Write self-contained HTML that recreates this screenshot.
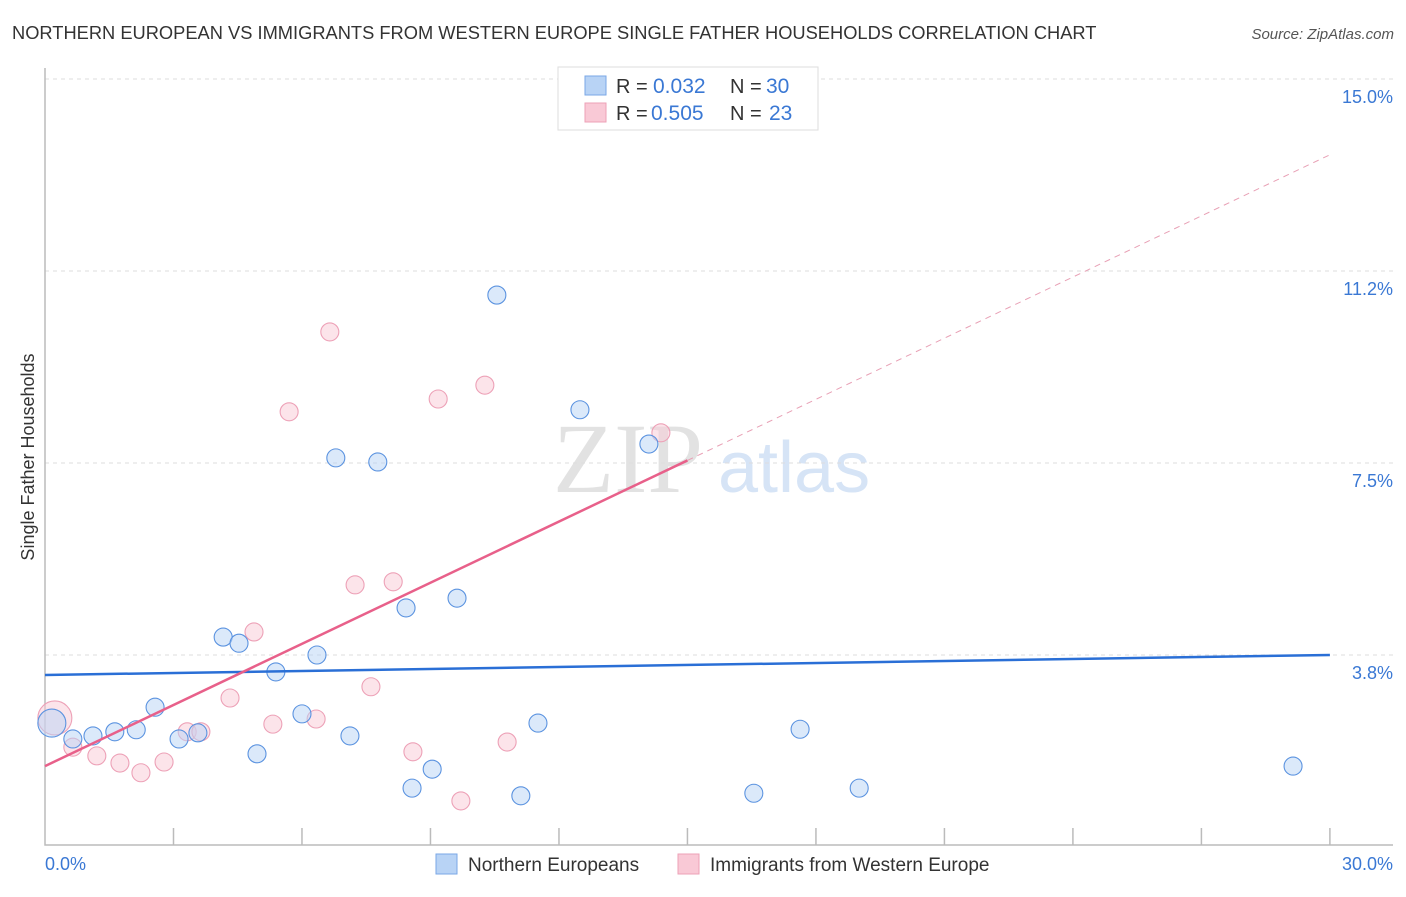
<!DOCTYPE html>
<html><head><meta charset="utf-8"><style>
body{margin:0;background:#fff;width:1406px;height:892px;overflow:hidden;font-family:"Liberation Sans",sans-serif}
</style></head><body>
<svg width="1406" height="892" xmlns="http://www.w3.org/2000/svg">
<text x="12" y="39" font-size="18.3" fill="#333">NORTHERN EUROPEAN VS IMMIGRANTS FROM WESTERN EUROPE SINGLE FATHER HOUSEHOLDS CORRELATION CHART</text>
<text x="1394" y="39" font-size="15" fill="#555" font-style="italic" text-anchor="end">Source: ZipAtlas.com</text>
<text x="34" y="457" font-size="18" fill="#333" text-anchor="middle" transform="rotate(-90 34 457)">Single Father Households</text>
<text x="553" y="492" font-size="100" fill="#e2e2e2" font-family="Liberation Serif,serif">ZIP</text>
<text x="718" y="492" font-size="72" fill="#d6e4f6">atlas</text>
<g id="grid"></g>
<g id="marks"></g>
<g>
<rect x="558" y="67" width="260" height="63" fill="#fff" stroke="#ddd"/>
<rect x="585" y="76" width="21" height="19" fill="#b8d3f5" stroke="#7aa7e6"/>
<rect x="585" y="103" width="21" height="19" fill="#f9c9d6" stroke="#eda1b7"/>
<text x="616" y="93" font-size="20" fill="#333">R =</text>
<text x="653" y="93" font-size="21" fill="#3a78d4">0.032</text>
<text x="730" y="93" font-size="20" fill="#333">N =</text>
<text x="766" y="93" font-size="21" fill="#3a78d4">30</text>
<text x="616" y="120" font-size="20" fill="#333">R =</text>
<text x="651" y="120" font-size="21" fill="#3a78d4">0.505</text>
<text x="730" y="120" font-size="20" fill="#333">N =</text>
<text x="769" y="120" font-size="21" fill="#3a78d4">23</text>
</g>
<g>
<rect x="436" y="854" width="21" height="20" fill="#b8d3f5" stroke="#7aa7e6"/>
<text x="468" y="871" font-size="19" fill="#333">Northern Europeans</text>
<rect x="678" y="854" width="21" height="20" fill="#f9c9d6" stroke="#eda1b7"/>
<text x="710" y="871" font-size="19" fill="#333">Immigrants from Western Europe</text>
</g>
</svg>
<script>
const yTicks=[15.0,11.25,7.5,3.75];
const yTickLabels=["15.0%","11.2%","7.5%","3.8%"];
const xTickLabels=["0.0%","30.0%"];
const blueX=[0.16,0.65,1.12,1.63,2.13,2.57,3.13,3.57,4.16,4.53,4.95,5.39,6.00,6.35,6.79,7.12,7.77,8.43,8.57,9.04,9.62,10.55,11.11,11.51,12.49,14.10,16.55,17.63,19.01,29.14];
const blueY=[2.42,2.11,2.17,2.25,2.29,2.73,2.11,2.23,4.10,3.98,1.82,3.42,2.60,3.75,7.60,2.17,7.52,4.67,1.15,1.52,4.86,10.78,1.00,2.42,8.54,7.87,1.05,2.30,1.15,1.58];
const pinkX=[0.23,0.65,1.21,1.75,2.24,2.78,3.32,3.64,4.32,4.88,5.32,5.70,6.33,6.65,7.24,7.61,8.13,8.59,9.18,9.71,10.27,10.79,14.38];
const pinkY=[2.52,1.95,1.78,1.64,1.45,1.66,2.25,2.25,2.91,4.20,2.40,8.50,2.50,10.06,5.12,3.13,5.18,1.86,8.75,0.90,9.02,2.05,8.09];
const blueTrend=[3.36,3.75];
const pinkTrend=[1.58,13.52];
const NS="http://www.w3.org/2000/svg";
const X=v=>45+v*42.83, Y=v=>847-v*51.2;
function mk(tag,attrs,parent){const e=document.createElementNS(NS,tag);for(const k in attrs)e.setAttribute(k,attrs[k]);parent.appendChild(e);return e;}
const grid=document.getElementById('grid'), marks=document.getElementById('marks');
yTicks.forEach((t,i)=>{
 const l=mk('line',{x1:45,x2:1393,y1:Y(t),y2:Y(t),stroke:'#ddd','stroke-dasharray':'4,4'},grid);
 
 
 const tx=mk('text',{x:1393,y:Y(t)+24,'font-size':18,fill:'#3a78d4','text-anchor':'end'},grid);
 tx.textContent=yTickLabels[i];
 
 
});
const ax=mk('path',{d:'M45 68V845H1393',fill:'none',stroke:'#bbb','stroke-width':1.5},grid);


for(let i=1;i<=10;i++){const t=mk('line',{x1:X(i*3),x2:X(i*3),y1:828,y2:845,stroke:'#bbb','stroke-width':1.5},grid);
 
 }
[[0,'start',45],[30,'end',1393]].forEach((a,i)=>{const t=mk('text',{x:a[2],y:870,'font-size':18,fill:'#3a78d4','text-anchor':a[1]},grid);t.textContent=xTickLabels[i];
 
 });
function dots(xs,ys,fill,stroke,name){xs.forEach((x,i)=>{const r=i===0?(name==='pink-point'?17:14):9;
 const c=mk('circle',{cx:X(x),cy:Y(ys[i]),r:r,fill:fill,'fill-opacity':0.5,stroke:stroke,'stroke-width':1.1},marks);
 
 });}
dots(pinkX,pinkY,'#f9c9d6','#eda1b7','pink-point');
dots(blueX,blueY,'#b8d3f5','#5b93e0','blue-point');
const bl=mk('line',{x1:X(0),y1:Y(blueTrend[0]),x2:X(30),y2:Y(blueTrend[1]),stroke:'#2a6fd6','stroke-width':2.5},marks);


const pm=v=>pinkTrend[0]+(pinkTrend[1]-pinkTrend[0])*v/30;
const pl=mk('line',{x1:X(0),y1:Y(pm(0)),x2:X(15),y2:Y(pm(15)),stroke:'#e8608a','stroke-width':2.5},marks);


const pd=mk('line',{x1:X(15),y1:Y(pm(15)),x2:X(30),y2:Y(pm(30)),stroke:'#e8a0b5','stroke-width':1,'stroke-dasharray':'6,5'},marks);


</script>
</body></html>
